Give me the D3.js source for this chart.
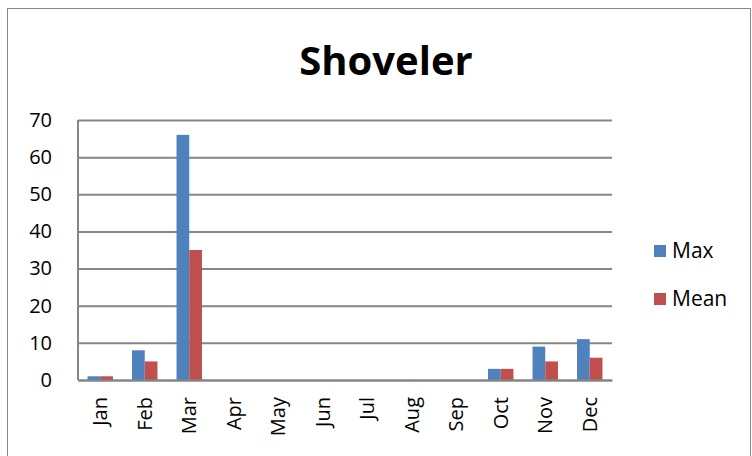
<!DOCTYPE html>
<html>
<head>
<meta charset="utf-8">
<script src="https://cdn.jsdelivr.net/npm/d3@7"></script>
<style>
  html, body { margin: 0; padding: 0; background: #fff; }
  svg { display: block; font-family: "Open Sans", sans-serif; }
</style>
</head>
<body>
<div id="chart"></div>
<script>
// chart data
const months = ["Jan", "Feb", "Mar", "Apr", "May", "Jun", "Jul", "Aug", "Sep", "Oct", "Nov", "Dec"];
const maxValues = [1, 8, 66, 0, 0, 0, 0, 0, 0, 3, 9, 11];
const meanValues = [1, 5, 35, 0, 0, 0, 0, 0, 0, 3, 5, 6];
const seriesNames = ["Max", "Mean"];
const yTicks = [0, 10, 20, 30, 40, 50, 60, 70];

const width = 752, height = 456;
const colors = ["#4F81BD", "#C0504D"];
const plot = { left: 78, right: 612, top: 120, bottom: 380 };

const svg = d3.select("#chart").append("svg")
  .attr("width", width)
  .attr("height", height);

// outer chart border
svg.append("rect")
  .attr("x", 7.5).attr("y", 8.5)
  .attr("width", 743).attr("height", 460)
  .attr("fill", "#fff")
  .attr("stroke", "#868686");

// title
svg.append("text")
  .attr("x", 386).attr("y", 75)
  .attr("text-anchor", "middle")
  .style("font-size", "40px")
  .style("font-weight", "bold")
  .text("Shoveler");

const x = d3.scaleBand()
  .domain(months)
  .range([plot.left, plot.right])
  .paddingInner(0.4286)
  .paddingOuter(0.2143);

const xInner = d3.scaleBand()
  .domain(seriesNames)
  .range([0, x.bandwidth()]);

const y = d3.scaleLinear()
  .domain([0, 70])
  .range([plot.bottom, plot.top]);

// gridlines + y labels
const yAxis = d3.axisLeft(y)
  .tickValues(yTicks)
  .tickSize(-(plot.right - plot.left))
  .tickPadding(26)
  .tickFormat(d3.format("d"));

const gy = svg.append("g")
  .attr("transform", `translate(${plot.left},0)`)
  .call(yAxis);
gy.select(".domain").remove();
gy.selectAll(".tick line")
  .attr("stroke", "#868686")
  .attr("stroke-width", 2);
gy.selectAll(".tick text")
  .attr("fill", "#000")
  .style("font-size", "20px")
  .style("font-family", "'Open Sans', sans-serif");

// left axis line
svg.append("line")
  .attr("x1", plot.left).attr("x2", plot.left)
  .attr("y1", plot.top).attr("y2", plot.bottom)
  .attr("stroke", "#868686")
  .attr("stroke-width", 2);

// bars
const series = [maxValues, meanValues];
series.forEach((vals, si) => {
  svg.append("g").selectAll("rect")
    .data(months.map((m, i) => ({ m, v: vals[i] })))
    .join("rect")
    .attr("x", d => x(d.m) + xInner(seriesNames[si]))
    .attr("y", d => y(d.v))
    .attr("width", xInner.bandwidth())
    .attr("height", d => y(0) - y(d.v))
    .attr("fill", colors[si]);
});

// x axis labels
const xAxis = d3.axisBottom(x).tickSize(0).tickPadding(0);
const gx = svg.append("g")
  .attr("transform", `translate(0,${plot.bottom})`)
  .call(xAxis);
gx.select(".domain")
  .attr("stroke", "#868686")
  .attr("stroke-width", 2);
gx.selectAll(".tick text")
  .attr("fill", "#000")
  .attr("transform", "rotate(-90)")
  .attr("text-anchor", "end")
  .attr("x", -17)
  .attr("y", 0)
  .attr("dy", "0.35em")
  .style("font-size", "20px")
  .style("font-family", "'Open Sans', sans-serif");

// legend
const legend = svg.append("g")
  .selectAll("g")
  .data(seriesNames)
  .join("g")
  .attr("transform", (d, i) => `translate(654,${245 + i * 48})`);
legend.append("rect")
  .attr("width", 12).attr("height", 12)
  .attr("fill", (d, i) => colors[i]);
legend.append("text")
  .attr("x", 18).attr("y", 6)
  .attr("dy", "0.35em")
  .style("font-size", "21px")
  .text(d => d);
</script>
</body>
</html>
